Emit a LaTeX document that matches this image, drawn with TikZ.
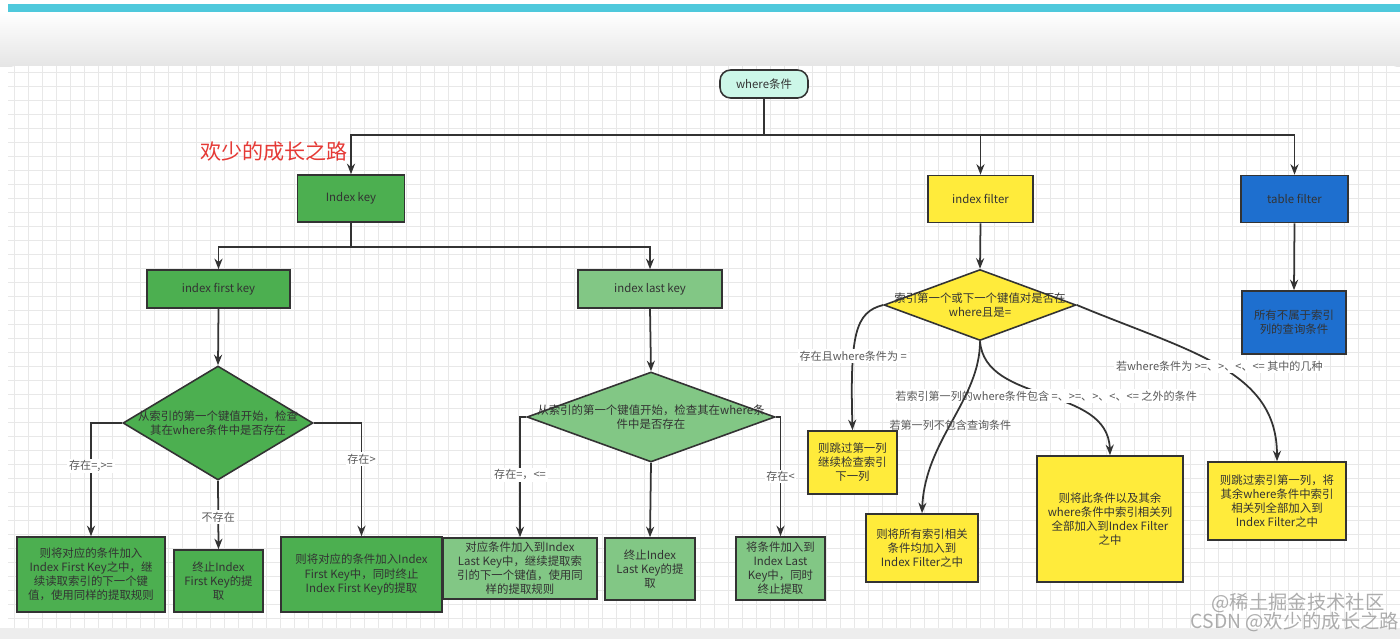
\documentclass[tikz,border=0pt]{standalone}
\usepackage{fontspec}
\setmainfont{Noto Sans CJK SC}
\usetikzlibrary{arrows.meta,shapes.geometric}
\definecolor{deepgreen}{HTML}{4CAF50}
\definecolor{softgreen}{HTML}{82C785}
\definecolor{lemon}{HTML}{FFEB3B}
\definecolor{azure}{HTML}{1E6FCF}
\definecolor{mint}{HTML}{CCF7E8}
\definecolor{barcyan}{HTML}{4FC9DC}
\definecolor{ink}{HTML}{333333}
\definecolor{titlered}{HTML}{E53935}
\tikzset{
  sized/.style 2 args={minimum width=#1*0.02cm, minimum height=#2*0.02cm},
  box/.style={draw=ink, line width=0.9pt, align=center, inner sep=1pt,
    font=\fontsize{6.5}{8}\selectfont, text=ink},
  choice/.style={diamond, draw=ink, line width=0.9pt, inner sep=0pt},
  ctext/.style={align=center, font=\fontsize{6.5}{8}\selectfont, text=ink},
  link/.style={draw=ink, line width=1pt},
  arr/.style={link, -{Stealth[length=6pt,width=4.6pt]}},
  lbl/.style={font=\fontsize{6.3}{7.5}\selectfont, text=black!65, fill=white, inner sep=1pt},
  lblbare/.style={lbl, fill=none},
  gridline/.style={black!9, line width=0.3pt},
  stamp/.style={font=\fontsize{11}{12}\selectfont, text=black!40, opacity=0.8}
}
\begin{document}
\begin{tikzpicture}[x=0.02cm, y=-0.02cm]
  \useasboundingbox (0,0) rectangle (1400,639);
  % page background
  \fill[white] (0,0) rectangle (1400,639);
  \fill[barcyan] (8,4) rectangle (1400,12);
  \shade[top color=white, bottom color=black!10] (0,12) rectangle (1400,66);
  \fill[black!7] (0,628) rectangle (1400,639);
  \fill[white, rounded corners=4] (8,66) rectangle (1400,628);
  \foreach \gx in {14,28,...,1400} {
    \draw[gridline] (\gx,66) -- (\gx,628);
  }
  \foreach \gy in {72,86,...,628} {
    \draw[gridline] (8,\gy) -- (1400,\gy);
  }

  % top level
  \node[box, sized={88}{28}, rounded corners=6pt, fill=mint] (where) at (764,84) {where条件};
  \node[font=\fontsize{12}{14}\selectfont, text=titlered] (title) at (274,152) {欢少的成长之路};
  \node[box, sized={107}{47}, fill=deepgreen] (ikey) at (351,198.5) {Index key};
  \node[box, sized={105}{47}, fill=lemon] (ifilter) at (980.5,199) {index filter};
  \node[box, sized={107}{47}, fill=azure] (tfilter) at (1294.5,199) {table filter};
  \coordinate (hub) at (764,135);
  \draw[link] (where.south) -- (hub);
  \draw[arr] (hub) -| (ikey.north);
  \draw[arr] (hub) -| (ifilter.north);
  \draw[arr] (hub) -| (tfilter.north);

  % index key
  \node[box, sized={143}{38}, fill=deepgreen] (ifirst) at (218.5,289) {index first key};
  \node[box, sized={144}{38}, fill=softgreen] (ilast) at (650,289) {index last key};
  \coordinate (keyhub) at (351,247);
  \draw[link] (ikey.south) -- (keyhub);
  \draw[arr] (keyhub) -| (ifirst.north);
  \draw[arr] (keyhub) -| (ilast.north);

  % index first key
  \node[choice, sized={190}{114}, fill=deepgreen] (dfirst) at (218,423) {};
  \node[ctext] (dfirsttxt) at (dfirst) {从索引的第一个键值开始，检查\\其在where条件中是否存在};
  \node[box, sized={148}{75}, fill=deepgreen] (fadd) at (91,574.5) {则将对应的条件加入\\Index First Key之中，继\\续读取索引的下一个键\\值，使用同样的提取规则};
  \node[box, sized={89}{62}, fill=deepgreen] (fstop) at (218.5,581) {终止Index\\First Key的提\\取};
  \node[box, sized={161}{75}, fill=deepgreen] (fend) at (361.5,574.5) {则将对应的条件加入Index\\First Key中，同时终止\\Index First Key的提取};
  \draw[arr] (ifirst.south) -- (dfirst.north);
  \draw[arr] (dfirst.west) -| node[lbl, pos=0.69] {存在=,>=} (fadd.north);
  \draw[arr] (dfirst.south) -- node[lbl, pos=0.53] {不存在} (fstop.north);
  \draw[arr] (dfirst.east) -| node[lbl, pos=0.66] {存在>} (fend.north);

  % index last key
  \node[choice, sized={248}{90}, fill=softgreen] (dlast) at (651,417) {};
  \node[ctext] (dlasttxt) at (dlast) {从索引的第一个键值开始，检查其在where条\\件中是否存在};
  \node[box, sized={154}{61}, fill=softgreen] (ladd) at (520,568.5) {对应条件加入到Index\\Last Key中，继续提取索\\引的下一个键值，使用同\\样的提取规则};
  \node[box, sized={90}{62}, fill=softgreen] (lstop) at (650,569) {终止Index\\Last Key的提\\取};
  \node[box, sized={89}{63}, fill=softgreen] (lend) at (780.5,568.5) {将条件加入到\\Index Last\\Key中，同时\\终止提取};
  \draw[arr] (ilast.south) -- (dlast.north);
  \draw[arr] (dlast.west) -| node[lbl, pos=0.74] {存在=，<=} (ladd.north);
  \draw[arr] (dlast.south) -- (lstop.north);
  \draw[arr] (dlast.east) -| node[lbl, pos=0.75] {存在<} (lend.north);

  % index filter
  \node[choice, sized={192}{71}, fill=lemon] (dfilter) at (980,305) {};
  \node[ctext] (dfiltertxt) at (dfilter) {索引第一个或下一个键值对是否在\\where且是=};
  \node[box, sized={89}{63}, fill=lemon] (skipcol) at (852.5,462.5) {则跳过第一列\\继续检查索引\\下一列};
  \node[box, sized={112}{68}, fill=lemon] (alladd) at (922,548) {则将所有索引相关\\条件均加入到\\Index Filter之中};
  \node[box, sized={146}{126}, fill=lemon] (restadd) at (1110,519) {则将此条件以及其余\\where条件中索引相关列\\全部加入到Index Filter\\之中};
  \node[box, sized={138}{78}, fill=lemon] (skipadd) at (1277,501) {则跳过索引第一列，将\\其余where条件中索引\\相关列全部加入到\\Index Filter之中};
  \draw[arr] (ifilter.south) -- (dfilter.north);
  \draw[arr] (dfilter.west) .. controls (855,312) and (850,335) .. node[lbl, pos=0.66] {存在且where条件为 =} (skipcol.north);
  \draw[arr] (dfilter.south) .. controls (985,405) and (1108,385) .. node[lbl, pos=0.5] {若索引第一列的where条件包含 =、>=、>、<、<= 之外的条件} (restadd.north);
  \draw[arr] (dfilter.south) .. controls (980,400) and (925,440) .. node[lblbare, pos=0.52] {若第一列不包含查询条件} (alladd.north);
  \draw[arr] (dfilter.east) .. controls (1190,352) and (1277,370) .. node[lbl, pos=0.5] {若where条件为 >=、>、<、<= 其中的几种} (skipadd.north);

  % table filter
  \node[box, sized={104}{63}, fill=azure] (tcond) at (1294,322.5) {所有不属于索引\\列的查询条件};
  \draw[arr] (tfilter.south) -- (tcond.north);

  % watermark
  \node[stamp] (stampa) at (1298,603) {@稀土掘金技术社区};
  \node[stamp] (stampb) at (1295,622) {CSDN @欢少的成长之路};
\end{tikzpicture}
\end{document}
